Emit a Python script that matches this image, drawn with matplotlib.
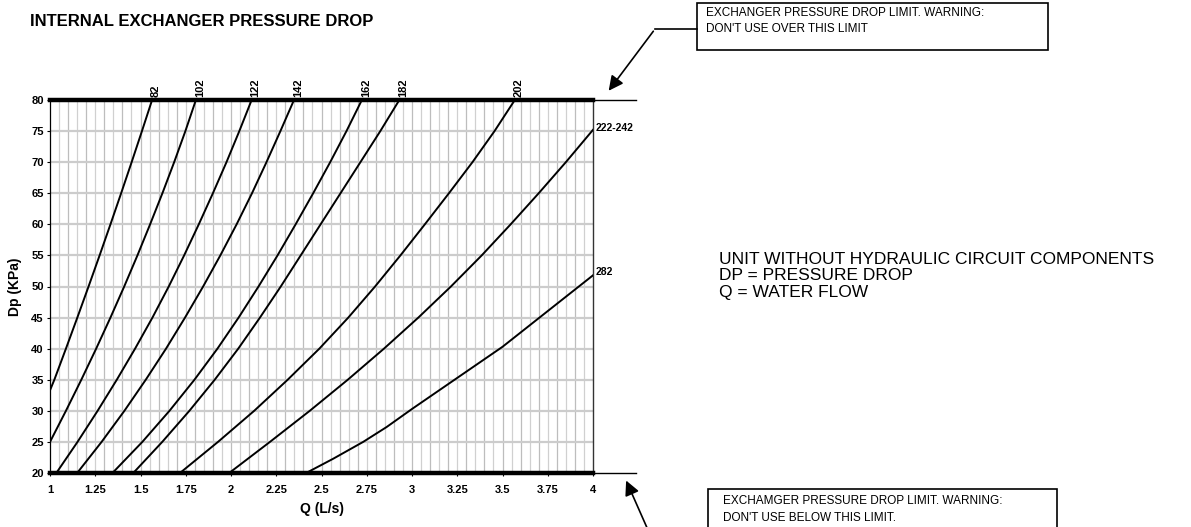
import matplotlib
matplotlib.use("Agg")
import matplotlib.pyplot as plt
from matplotlib.patches import Rectangle, FancyArrowPatch
import numpy as np

plt.rcParams['font.family'] = ['Liberation Sans', 'DejaVu Sans']

# pressure drop curves, Q (L/s) vs Dp (kPa)
dp_5 = [20, 25, 30, 35, 40, 45, 50, 55, 60, 65, 70, 75, 80]

q82 = [1.0, 1.024, 1.088, 1.151, 1.213, 1.274, 1.334, 1.393, 1.451, 1.508, 1.564]
dp82 = [33.3, 35, 40, 45, 50, 55, 60, 65, 70, 75, 80]

q102 = [1.0, 1.088, 1.173, 1.255, 1.334, 1.41, 1.483, 1.553, 1.621, 1.686, 1.748, 1.806]
dp102 = [25, 30, 35, 40, 45, 50, 55, 60, 65, 70, 75, 80]

q122 = [1.035, 1.152, 1.263, 1.369, 1.47, 1.566, 1.656, 1.741, 1.822, 1.9, 1.975, 2.046, 2.114]
q142 = [1.15, 1.285, 1.411, 1.529, 1.641, 1.746, 1.846, 1.941, 2.031, 2.116, 2.196, 2.273, 2.348]
q162 = [1.345, 1.51, 1.66, 1.798, 1.925, 2.042, 2.152, 2.257, 2.357, 2.454, 2.548, 2.638, 2.723]
q182 = [1.46, 1.62, 1.77, 1.91, 2.04, 2.16, 2.275, 2.385, 2.495, 2.605, 2.715, 2.825, 2.93]
q202 = [1.718, 1.928, 2.128, 2.313, 2.488, 2.648, 2.796, 2.936, 3.071, 3.204, 3.334, 3.456, 3.568]

q222 = [1.99, 2.215, 2.435, 2.645, 2.845, 3.035, 3.215, 3.385, 3.545, 3.7, 3.85, 4.0]
dp222 = [20, 25, 30, 35, 40, 45, 50, 55, 60, 65, 70, 75.2]

q282 = [2.415, 2.565, 2.73, 2.86, 3.0, 3.5, 4.0]
dp282 = [20, 22.3, 25, 27.4, 30.3, 40.3, 51.8]

top_labels = ["82", "102", "122", "142", "162", "182", "202"]

xticks = [1, 1.25, 1.5, 1.75, 2, 2.25, 2.5, 2.75, 3, 3.25, 3.5, 3.75, 4]
yticks = list(range(20, 81, 5))

W, H = 1191, 527
fig = plt.figure(figsize=(W / 100, H / 100), dpi=100)
ax = fig.add_axes([50 / W, 1 - 473 / H, (593 - 50) / W, (473 - 100) / H])

def px(x, y):
    return (x / W, 1 - y / H)

# grid
for i, v in enumerate(np.arange(1.05, 4.0, 0.05)):
    ax.axvline(v, color='#bdbdbd' if i % 2 else '#d0d0d0', lw=0.9, zorder=1)
for v in yticks[1:-1]:
    ax.axhline(v, color='#cccccc', lw=1.6, zorder=1)

curves = [(q82, dp82), (q102, dp102), (q122, dp_5), (q142, dp_5), (q162, dp_5),
          (q182, dp_5), (q202, dp_5), (q222, dp222), (q282, dp282)]
for q, dp in curves:
    ax.plot(q, dp, color='black', lw=1.4, zorder=3)

# labels at top of curves
for (q, dp), lab in zip(curves[:7], top_labels):
    ax.text(q[-1] - 0.006, 80.5, lab, rotation=90, ha='left', va='bottom',
            fontsize=8, fontweight='bold')
ax.text(4.015, 75.5, "222-242", ha='left', va='center', fontsize=7.5, fontweight='bold')
ax.text(4.015, 52.3, "282", ha='left', va='center', fontsize=7.5, fontweight='bold')

ax.set_xlim(1, 4)
ax.set_ylim(20, 80)
ax.set_xticks(xticks)
ax.set_xticklabels([f"{v:g}" for v in xticks])
ax.set_yticks(yticks)
for t in ax.get_xticklabels() + ax.get_yticklabels():
    t.set_fontweight('bold')
ax.tick_params(axis='y', labelsize=8, length=2.5, width=0.8, pad=2)
ax.tick_params(axis='x', labelsize=8, length=2.5, width=0.8, pad=6)

ax.spines['left'].set_linewidth(0.9)
ax.spines['right'].set_linewidth(1.0)
ax.spines['right'].set_color('#333333')
ax.spines['top'].set_linewidth(3.2)
ax.spines['bottom'].set_linewidth(3.2)

# limit lines extending past the axes
ax.plot([4, 4.238], [80, 80], color='black', lw=1.0, clip_on=False)
ax.plot([4, 4.238], [20, 20], color='black', lw=1.0, clip_on=False)

ax.set_ylabel("Dp (KPa)", fontsize=10, fontweight='bold', labelpad=7)
ax.set_xlabel("Q (L/s)", fontsize=10, fontweight='bold', labelpad=5)

fig.text(*px(30, 21), "INTERNAL EXCHANGER PRESSURE DROP", fontsize=12,
         fontweight='bold', ha='left', va='center')

fig.text(*px(719, 259), "UNIT WITHOUT HYDRAULIC CIRCUIT COMPONENTS", fontsize=12.5, va='center')
fig.text(*px(719, 276), "DP = PRESSURE DROP", fontsize=12.5, va='center')
fig.text(*px(719, 293), "Q = WATER FLOW", fontsize=12.5, va='center')

# warning boxes
x0, y0 = px(697, 50)
x1, y1 = px(1048, 3)
fig.patches.append(Rectangle((x0, y0), x1 - x0, y1 - y0, transform=fig.transFigure,
                             facecolor='white', edgecolor='black', lw=1.2))
fig.text(*px(706, 13), "EXCHANGER PRESSURE DROP LIMIT. WARNING:", fontsize=8.5, va='center')
fig.text(*px(706, 29), "DON'T USE OVER THIS LIMIT", fontsize=8.5, va='center')

x0, y0 = px(708, 532)
x1, y1 = px(1057, 489)
fig.patches.append(Rectangle((x0, y0), x1 - x0, y1 - y0, transform=fig.transFigure,
                             facecolor='white', edgecolor='black', lw=1.2))
fig.text(*px(723, 501), "EXCHAMGER PRESSURE DROP LIMIT. WARNING:", fontsize=8.5, va='center')
fig.text(*px(723, 518), "DON'T USE BELOW THIS LIMIT.", fontsize=8.5, va='center')

# leader arrows
fig.add_artist(plt.Line2D([px(697, 29)[0], px(655, 29)[0]], [px(697, 29)[1], px(655, 29)[1]],
                          transform=fig.transFigure, color='black', lw=1.2))
arrow = dict(arrowstyle='-|>', color='black', lw=1.2, mutation_scale=22)
fig.add_artist(FancyArrowPatch(px(655, 29), px(607, 93), transform=fig.transFigure, **arrow))
fig.add_artist(FancyArrowPatch(px(648, 530), px(625, 478), transform=fig.transFigure, **arrow))

fig.savefig("out.png", dpi=100)
